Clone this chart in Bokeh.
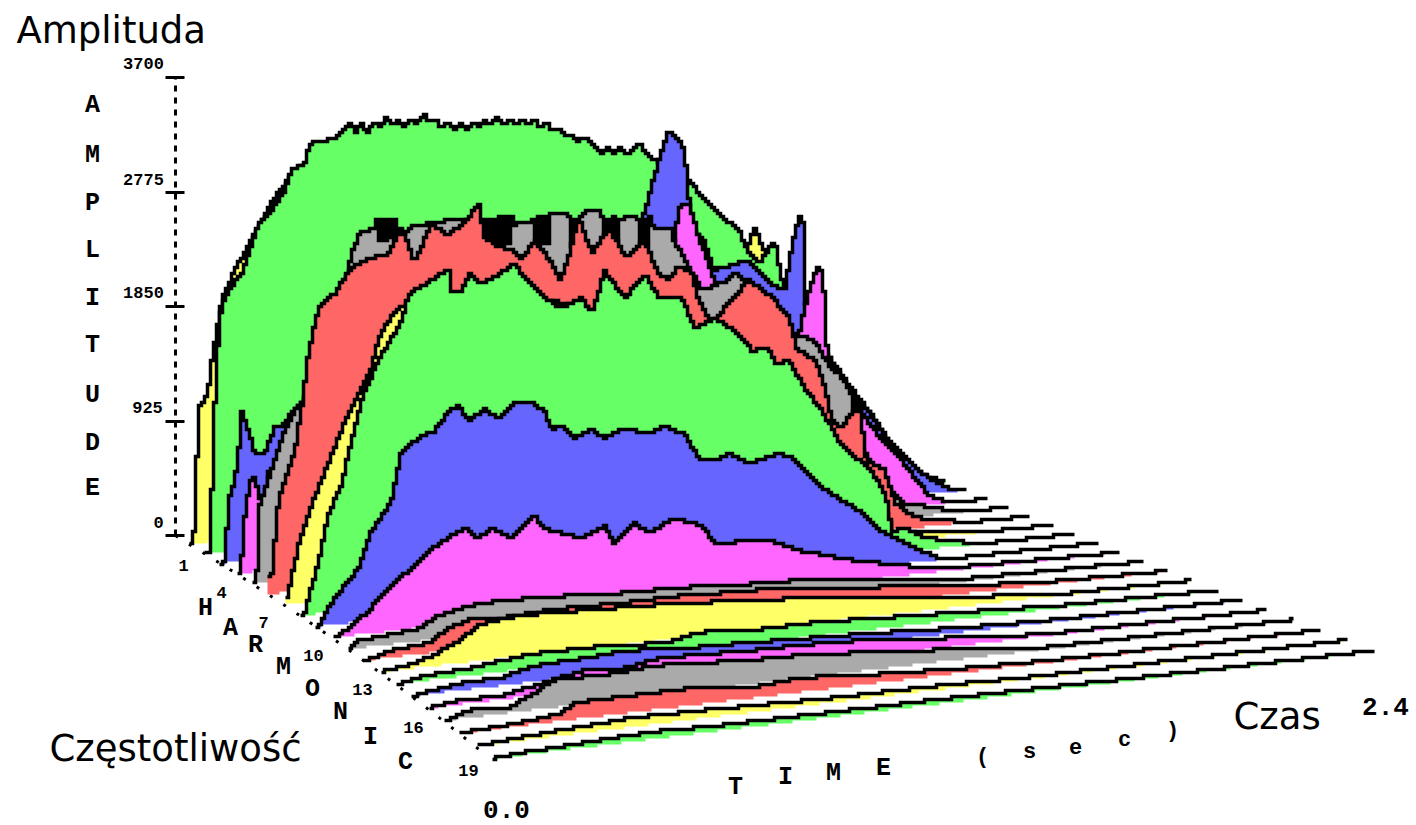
import numpy as np
from bokeh.plotting import figure
from bokeh.embed import file_html
from bokeh.resources import INLINE
from bokeh.models import LinearAxis, Range1d, FixedTicker
from bokeh.core.properties import value

# ---------- data: amplitude envelopes of the 20 harmonics (time in s, amplitude) ----------
H01_t = [0, .007, .013, .023, .042, .056, .065, .098, .14, .251, .284, .359, .686, 1.339, 1.665, 1.796, 1.838, 1.887, 1.96, 2.063, 2.263, 2.318, 2.4]
H01_a = [0, 100, 500, 1082, 1134, 1267, 1448, 1920, 2152, 2622, 2758, 2940, 3064, 2752, 2275, 1845, 2091, 1808, 1328, 1064, 352, 40, 0]
H02_t = [0, .006, .023, .026, .036, .045, .068, .11, .136, .159, .208, .25, .273, .315, .331, .412,
         .46, .48, .50, .52, .54, .56, .58, .60, .62, .64, .66, .68, .70, .72, .74, .76, .78, .80, .82, .84, .86, .88, .90, .92, .94, .96, .98,
         1.00, 1.02, 1.04, 1.06, 1.08, 1.10, 1.12, 1.14, 1.16, 1.18, 1.20, 1.22, 1.24, 1.26, 1.28, 1.30, 1.32, 1.34, 1.36, 1.38, 1.40, 1.42, 1.44,
         1.46, 1.507, 1.562, 1.637, 1.725, 1.751, 1.79, 1.842, 1.864, 1.897, 1.96, 2.09, 2.2, 2.287, 2.4]
H02_a = [0, 0, 1216, 1480, 1752, 1989, 2088, 2214, 2392, 2568, 2694, 2844, 2998, 3045, 3200, 3221,
         3328, 3260, 3310, 3250, 3320, 3270, 3350, 3280, 3320, 3260, 3304, 3270, 3352, 3280, 3290, 3220, 3260, 3200, 3250, 3190, 3240, 3200, 3250, 3210, 3262, 3200, 3240,
         3180, 3230, 3170, 3224, 3150, 3184, 3110, 3130, 3060, 3070, 3010, 3040, 2990, 2940, 2900, 2950, 2880, 2926, 2860, 2890, 2950, 2880, 2820,
         2790, 2662, 2608, 2376, 2168, 2004, 1898, 2064, 1736, 1408, 1072, 720, 376, 91, 0]
H03_t = [0, .003, .016, .036, .048, .058, .084, .10, .132, .165, .187, .242, .575, 1.221, 1.334, 1.392, 1.415, 1.437, 1.479, 1.489, 1.499, 1.512, 1.55, 1.583, 1.641, 1.696, 1.77, 1.812, 1.835, 1.857, 1.873, 1.877, 1.9, 1.964, 2.003, 2.077, 2.142, 2.222, 2.287, 2.35, 2.4]
H03_a = [0, 30, 500, 656, 892, 1192, 1019, 840, 848, 1048, 1058, 1205, 1964, 1888, 2259, 2782, 2960, 3112, 3000, 2886, 2619, 2296, 2208, 1960, 1984, 2011, 1792, 1744, 2112, 2316, 2272, 1648, 1320, 1064, 936, 720, 464, 244, 108, 10, 0]
H04_t = [0, .003, .016, .032, .048, .064, .08, .093, .119, .52, 1.162, 1.322, 1.393, 1.409, 1.441, 1.473, 1.515, 1.534, 1.58, 1.74, 1.788, 1.826, 1.846, 1.862, 1.875, 1.884, 1.948, 2.013, 2.061, 2.125, 2.173, 2.21, 2.27, 2.4]
H04_a = [0, 20, 444, 712, 748, 568, 604, 784, 792, 1816, 1894, 1974, 2316, 2576, 2600, 2320, 2022, 1800, 1630, 1429, 1416, 1808, 1944, 2000, 1752, 1312, 976, 720, 549, 373, 200, 80, 0, 0]
H05_t = [0, .003, .01, .041, .083, .124, .163, .284, .306, .331, .379,
         .386, .395, .405, .414, .424, .433, .443, .453, .507, .583, .634, .70,
         .720, .730, .739, .749, .759, .768, .778, .787, .797, .806, .816, .825, .877,
         .883, .892, .902, .911, .921, .931, .94, .99,
         .998, 1.007, 1.017, 1.026, 1.036, 1.045, 1.096,
         1.103, 1.112, 1.122, 1.131, 1.141, 1.151, 1.157, 1.208,
         1.217, 1.227, 1.237, 1.246, 1.256, 1.268, 1.326, 1.332, 1.421, 1.501, 1.533, 1.565, 1.676, 1.724, 1.778, 1.835, 1.861, 1.9, 1.915, 1.995, 2.06, 2.19, 2.25, 2.4]
H05_a = [0, 30, 606, 838, 1139, 1353, 1464, 2312, 2562, 2724, 2744,
         2816, 2632, 2816, 2632, 2816, 2632, 2816, 2632, 2736, 2740, 2760, 2696,
         2734, 2510, 2734, 2510, 2734, 2510, 2734, 2510, 2734, 2510, 2734, 2664, 2664,
         2696, 2472, 2696, 2472, 2696, 2472, 2720, 2720,
         2672, 2448, 2672, 2448, 2672, 2704, 2704,
         2640, 2416, 2640, 2416, 2640, 2416, 2624, 2624,
         2616, 2392, 2616, 2392, 2616, 2512, 2512, 2408, 1984, 2044, 2100, 2012, 1600, 1547, 1494, 1240, 1200, 1024, 656, 320, 120, 40, 0, 0]
H06_t = [0, .022, .073, .095, .117, .149, .199, .253, .316, .364, .411, .452, .506, .56, .623, .655, .674, .711, .759, .79, .832, .885, .911, .933, .971, 1.012, 1.066, 1.123, 1.179, 1.217, 1.249, 1.287, 1.328, 1.35, 1.391, 1.429, 1.508, 1.581, 1.635, 1.66, 1.717, 1.749, 1.771, 1.802, 1.856, 1.872, 1.881, 1.938, 1.97, 2.033, 2.16, 2.2, 2.4]
H06_a = [144, 736, 1126, 1480, 1914, 2250, 2350, 2544, 2608, 2612, 2824, 2534, 2832, 2722, 2850, 2954, 2670, 2604, 2552, 2464, 2614, 2424, 2272, 2412, 2754, 2464, 2650, 2396, 2526, 2276, 2188, 2282, 2232, 2000, 1792, 1904, 2120, 1968, 1792, 1524, 1429, 1205, 936, 864, 1032, 752, 571, 493, 221, 85, 21, 0, 0]
H07_t = [0, .035, .085, .147, .191, .223, .264, .285, .317, .358, .671, 1.299, 1.66, 1.86, 1.9, 2.036, 2.114, 2.2, 2.4]
H07_a = [60, 478, 832, 1216, 1477, 1613, 1824, 2036, 2187, 2296, 2333, 1846, 900, 400, 60, 48, 30, 0, 0]
H08_t = [0, .003, .047, .078, .118, .149, .174, .19, .243, .305, .327, .408, .451, .461, .492, .514, .554, .607, .657, .688, .75, .803, .865, .897, .937, .999, 1.062, 1.105, 1.177, 1.217, 1.279, 1.354, 1.395, 1.448, 1.466, 1.51, 1.56, 1.613, 1.665, 1.706, 1.768, 1.799, 1.815, 1.83, 1.875, 1.93, 2.03, 2.1, 2.4]
H08_a = [0, 16, 419, 787, 1016, 1352, 1608, 1741, 2022, 2270, 2480, 2584, 2654, 2467, 2459, 2590, 2498, 2564, 2630, 2510, 2334, 2240, 2302, 2166, 2499, 2266, 2440, 2238, 2218, 1968, 2030, 1882, 1736, 1744, 1612, 1624, 1394, 1197, 942, 827, 674, 528, 422, 176, 190, 96, 44, 0, 0]
H09_t = [0, .006, .046, .12, .16, .222, .253, .305, .355, .398, .429, .46, .509, .552, .602, .663, .694, .716, .747, .787, .839, .879, .932, 1.015, 1.064, 1.126, 1.169, 1.209, 1.262, 1.323, 1.416, 1.456, 1.527, 1.549, 1.601, 1.663, 1.734, 1.857, 1.91, 1.98, 2.4]
H09_a = [0, 38, 211, 430, 716, 938, 1328, 1419, 1462, 1610, 1640, 1512, 1595, 1512, 1632, 1592, 1528, 1376, 1408, 1286, 1344, 1261, 1318, 1264, 1304, 1224, 1021, 984, 1027, 936, 984, 941, 736, 675, 581, 460, 280, 86, 16, 0, 0]
H10_t = [0, .04, .101, .162, .232, .284, .345, .394, .437, .477, .538, .608, .639, .752, .822, .853, .914, .957, 1.036, 1.119, 1.159, 1.333, 1.415, 1.587, 1.791, 1.892, 2.4]
H10_a = [0, 61, 180, 346, 487, 608, 696, 760, 670, 738, 640, 798, 685, 582, 658, 504, 656, 564, 654, 574, 427, 394, 292, 164, 50, 22, 0]
H11_t = [0, .021, .13, .212, .252, .294, .385, .476, .555, .797, 1.0, 1.233, 1.415, 1.727, 1.848, 2.4]
H11_a = [0, 56, 80, 104, 176, 202, 248, 246, 248, 208, 198, 162, 150, 59, 20, 0]
H12_t = [0, .066, .186, .246, .315, .404, .575, .755, .953, 1.103, 1.243, 1.444, 1.783, 2.02, 2.4]
H12_a = [0, 53, 82, 184, 237, 218, 240, 229, 236, 216, 208, 150, 67, 20, 0]
H13_t = [0, .077, .154, .234, .284, .361, .45, .569, .886, 1.084, 1.28, 1.479, 1.707, 2.01, 2.4]
H13_a = [0, 32, 90, 194, 291, 317, 322, 312, 280, 238, 204, 144, 78, 10, 0]
H14_t = [0, .076, .205, .302, .399, .537, .604, .78, .88, 1.027, 1.22, 1.514, 1.652, 1.945, 2.4]
H14_a = [0, 40, 56, 90, 116, 112, 117, 78, 136, 104, 110, 72, 56, 20, 0]
H15_t = [0, .07, .128, .252, .348, .485, .609, .804, .929, 1.23, 1.434, 1.587, 1.85, 2.4]
H15_a = [0, 32, 56, 64, 128, 141, 165, 126, 118, 86, 61, 36, 16, 0]
H16_t = [0, .069, .204, .31, .434, .528, .655, .913, 1.102, 1.295, 1.525, 1.64, 1.8, 2.4]
H16_a = [0, 32, 30, 88, 154, 123, 184, 158, 152, 128, 62, 32, 12, 0]
H17_t = [0, .062, .176, .25, .298, .383, .477, .59, .857, 1.044, 1.234, 1.461, 1.6, 1.69, 2.4]
H17_a = [0, 59, 45, 132, 220, 216, 216, 240, 192, 184, 128, 84, 38, 16, 0]
H18_t = [0, .174, .269, .314, .622, .801, .941, 1.173, 1.397, 1.59, 1.79, 2.4]
H18_a = [0, 28, 60, 132, 138, 85, 117, 69, 36, 20, 10, 0]
H19_t = [0, .1, .202, .285, .423, .625, .929, 1.15, 1.308, 1.5, 1.8, 2.4]
H19_a = [0, 20, 40, 50, 72, 64, 40, 34, 30, 14, 8, 0]
H20_t = [0, .05, .2, .33, .45, .6, .9, 1.2, 1.5, 1.8, 2.4]
H20_a = [0, 16, 32, 50, 56, 44, 40, 36, 28, 12, 0]

harmonic_times = [H01_t, H02_t, H03_t, H04_t, H05_t, H06_t, H07_t, H08_t, H09_t, H10_t,
                  H11_t, H12_t, H13_t, H14_t, H15_t, H16_t, H17_t, H18_t, H19_t, H20_t]
harmonic_amps = [H01_a, H02_a, H03_a, H04_a, H05_a, H06_a, H07_a, H08_a, H09_a, H10_a,
                 H11_a, H12_a, H13_a, H14_a, H15_a, H16_a, H17_a, H18_a, H19_a, H20_a]

colors = ["#FFFF66", "#66FF66", "#6666FF", "#FF66FF", "#AAAAAA", "#FF6666"]

amplitude_ticks = [0, 925, 1850, 2775, 3700]
harmonic_ticks = [1, 4, 7, 10, 13, 16, 19]
time_ticks = ["0.0", "2.4"]


# ---------- oblique projection: (harmonic index, time, amplitude) -> page position ----------
T_MAX = 2.4
AMP_PX = 0.125
CELL = 3


def corners(i):
    return (190 + 15.95 * i, 543 + 9.6 * i + 0.09 * i * i,
            925 + 19.8 * i + 0.195 * i * i, 473 + 8.2 * i + 0.059 * i * i)


def snap(v):
    return np.round(np.asarray(v) / CELL) * CELL


def stairs(i, ts, amps):
    lx, ly, rx, ry = corners(i)
    xs = np.arange(np.floor(lx / CELL) * CELL, rx, CELL)
    frac = np.clip((xs - lx) / (rx - lx), 0, 1)
    a = np.interp(frac * T_MAX, ts, amps)
    base = ly + frac * (ry - ly)
    top = snap(base - a * AMP_PX)
    low = snap(base)
    top = np.minimum(top, low)
    sx = np.repeat(xs, 2)
    sx[1::2] += CELL
    return sx, np.repeat(top, 2), np.repeat(low, 2)


p = figure(width=1416, height=825, x_range=(0, 1416), y_range=(825, 0),
           x_axis_type=None, y_axis_type=None, toolbar_location=None,
           output_backend="svg", min_border=0, outline_line_color=None)
p.grid.visible = False

# amplitude axis (real axis, dashed, on its own scale)
A0_Y, A1_Y = 535.0, 77.0
k = 3700 / (A0_Y - A1_Y)
p.extra_y_ranges = {"amp": Range1d(start=(A0_Y - 825) * k, end=A0_Y * k)}
axis = LinearAxis(y_range_name="amp", fixed_location=175,
                  ticker=FixedTicker(ticks=amplitude_ticks),
                  major_label_overrides={t: "" for t in amplitude_ticks},
                  axis_line_color="black", axis_line_width=3, axis_line_dash="6 6",
                  major_tick_line_color="black", major_tick_line_width=3,
                  major_tick_in=9, major_tick_out=10, minor_tick_line_color=None,
                  bounds=(0, 3700))
p.add_layout(axis, "left")

# dashed harmonic axis along the t=0 corners
edge = [corners(i) for i in range(20)]
p.line([175] + [e[0] - 6 for e in edge], [535] + [e[1] - 2 for e in edge],
       line_color="black", line_width=3, line_dash="3 13")

# ridges, back to front
for i, (ts, amps) in enumerate(zip(harmonic_times, harmonic_amps)):
    sx, top, low = stairs(i, ts, amps)
    p.patch(np.concatenate([sx, sx[::-1]]), np.concatenate([top, low[::-1]]),
            fill_color=colors[i % 6], line_color=None)
    p.line(sx, top, line_color="black", line_width=3.5, line_join="miter")


def labels(xs, ys, texts, size, font="Liberation Mono", style="bold", align="center", baseline="middle"):
    p.text(xs, ys, text=texts, text_font=value(font), text_font_size=size,
           text_font_style=style, text_align=align, text_baseline=baseline, text_color="black")


labels([92] * 9, [105, 155, 203, 250, 298, 345, 395, 443, 488], list("AMPLITUDE"), "25px")
labels([205, 230, 255, 283, 312, 340, 370, 405], [608, 628, 645, 667, 689, 712, 737, 762], list("HARMONIC"), "25px")
labels([735, 785, 833, 883], [787, 777, 773, 768], list("TIME"), "25px")
labels([982, 1029, 1075, 1124, 1172], [757, 752, 746, 740, 731], list("(sec)"), "22px")

labels([143, 143, 143, 147, 158], [63, 179, 292, 407, 522],
       [str(t) for t in amplitude_ticks[::-1]], "17px")
labels([183, 221, 263, 313, 362, 413, 468], [565, 592, 622, 655, 689, 727, 770],
       [str(h) for h in harmonic_ticks], "17px")
labels([506, 1385], [809, 706], time_ticks, "26px")

labels([16], [30], ["Amplituda"], "37px", font="DejaVu Sans", style="normal", align="left", baseline="alphabetic")
labels([49], [748], ["Częstotliwość"], "37px", font="DejaVu Sans", style="normal", align="left", baseline="alphabetic")
labels([1233], [716], ["Czas"], "37px", font="DejaVu Sans", style="normal", align="left", baseline="alphabetic")

open("out.html", "w").write(file_html(p, INLINE))
